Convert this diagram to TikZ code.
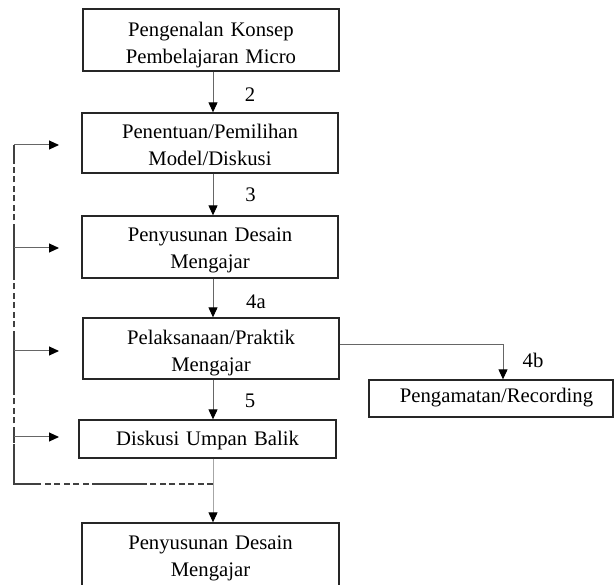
\documentclass[tikz,border=0pt]{standalone}
\usepackage{fontspec}
\setmainfont{Liberation Serif}
\usetikzlibrary{arrows.meta}
\begin{document}
\begin{tikzpicture}[x=1pt,y=-1pt,
  box/.style={draw=black!85, line width=1.3pt, inner sep=0pt, fill=none},
  txt/.style={font=\fontsize{20.7}{26.5}\selectfont, text width=250pt, align=center, inner sep=0pt, anchor=base},
  lbl/.style={font=\fontsize{20.7}{25}\selectfont, inner sep=0pt, anchor=base},
  arr/.style={-{Triangle[length=10pt,width=9pt,color=black]}, line width=1pt, draw=black!60},
  fb/.style={line width=1.2pt, draw=black!75},
  fbd/.style={fb, dash pattern=on 6pt off 3.5pt},
  fba/.style={-{Triangle[length=10pt,width=9pt,color=black]}, line width=1pt, draw=black!60}
]
\useasboundingbox (0,0) rectangle (614,585);

% boxes
\node[box, minimum width=256pt, minimum height=62pt] (b1) at (211,40) {};
\node[box, minimum width=256pt, minimum height=60pt] (b2) at (210,143) {};
\node[box, minimum width=256pt, minimum height=62pt] (b3) at (210,247) {};
\node[box, minimum width=256pt, minimum height=61pt] (b4) at (211,348.5) {};
\node[box, minimum width=257pt, minimum height=38pt] (b5) at (207.5,439) {};
\node[box, minimum width=244pt, minimum height=37pt] (b6) at (491,398.5) {};
\node[box, minimum width=257pt, minimum height=77pt] (b7) at (210.5,561.5) {};

% texts
\node[txt] (t1) at (211,37) {Pengenalan Konsep\\Pembelajaran Micro};
\node[txt] (t2) at (210,139) {Penentuan/Pemilihan\\Model/Diskusi};
\node[txt] (t3) at (210,242) {Penyusunan Desain\\Mengajar};
\node[txt] (t4) at (211,345) {Pelaksanaan/Praktik\\Mengajar};
\node[txt] (t5) at (207.5,446) {Diskusi Umpan Balik};
\node[txt] (t6) at (496.5,403) {Pengamatan/Recording};
\node[txt] (t7) at (210.5,550) {Penyusunan Desain\\Mengajar};

% step labels
\node[lbl] (n2) at (250,102) {2};
\node[lbl] (n3) at (250.5,202) {3};
\node[lbl] (n4a) at (256,309) {4a};
\node[lbl] (n5) at (250,408) {5};
\node[lbl] (n4b) at (533,368) {4b};

% helper coordinates
\coordinate (cx) at (213,0);
\coordinate (rx) at (503,0);
\coordinate (ry) at (0,345);
\coordinate (J) at (213,484);

% main flow
\draw[arr] (b1.south -| cx) -- (b2.north -| cx);
\draw[arr] (b2.south -| cx) -- (b3.north -| cx);
\draw[arr] (b3.south -| cx) -- (b4.north -| cx);
\draw[arr] (b4.south -| cx) -- (b5.north -| cx);
\draw[arr, draw=black!35] (b5.south -| cx) -- (b7.north -| cx);
\draw[arr] (b4.east |- ry) -| (b6.north -| rx);

% feedback loop
\coordinate (L0) at (14,145);
\coordinate (L1) at (14,163);
\coordinate (L2) at (14,230);
\coordinate (L3) at (14,275);
\coordinate (L4) at (14,337);
\coordinate (L5) at (14,390);
\coordinate (L6) at (14,433);
\coordinate (L7) at (14,443);
\coordinate (L8) at (14,450);
\coordinate (L9) at (14,484);
\coordinate (H1) at (40,484);
\coordinate (H2) at (98,484);
\coordinate (H3) at (145,484);
\coordinate (A1) at (14,248);
\coordinate (A2) at (14,351);
\coordinate (A3) at (14,437);
\coordinate (E0) at (59,145);
\coordinate (E1) at (59,248);
\coordinate (E2) at (59,351);
\coordinate (E3) at (59,437);

\draw[fbd] (J) -- (H3);
\draw[fb] (H3) -- (H2);
\draw[fbd] (H2) -- (H1);
\draw[fb] (H1) -- (L9) -- (L8);
\draw[fbd] (L8) -- (L7);
\draw[fb] (L7) -- (L6);
\draw[fbd] (L6) -- (L5);
\draw[fb] (L5) -- (L4);
\draw[fbd] (L4) -- (L3);
\draw[fb] (L3) -- (L2);
\draw[fbd] (L2) -- (L1);
\draw[fb] (L1) -- (L0);

\draw[fba] (L0) -- (E0);
\draw[fba] (A1) -- (E1);
\draw[fba] (A2) -- (E2);
\draw[fba] (A3) -- (E3);
\end{tikzpicture}
\end{document}
